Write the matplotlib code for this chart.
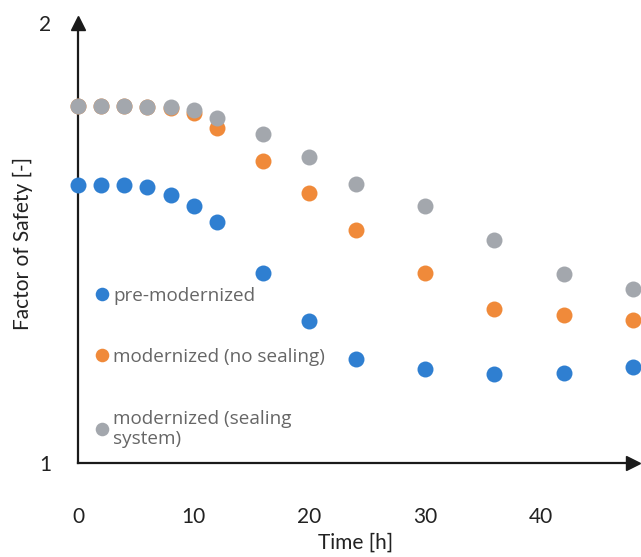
import matplotlib.pyplot as plt

plt.rcParams['font.family'] = ['Lato', 'DejaVu Sans']

# time in hours
time = [0, 2, 4, 6, 8, 10, 12, 16, 20, 24, 30, 36, 42, 48]

# factor of safety per case
pre_mod = [1.632, 1.632, 1.632, 1.627, 1.609, 1.584, 1.548,
           1.432, 1.323, 1.236, 1.214, 1.202, 1.205, 1.218]
mod_no_seal = [1.811, 1.811, 1.811, 1.809, 1.807, 1.795, 1.761,
               1.686, 1.614, 1.530, 1.432, 1.350, 1.336, 1.325]
mod_seal = [1.811, 1.811, 1.811, 1.809, 1.809, 1.802, 1.784,
            1.748, 1.695, 1.634, 1.584, 1.507, 1.430, 1.395]

labels = ['pre-modernized', 'modernized (no sealing)', 'modernized (sealing\nsystem)']
colors = ['#2f7fd1', '#f08a3a', '#a3a7ad']

fig = plt.figure(figsize=(6.41, 5.57), dpi=100)
ax = fig.add_axes([78 / 641, 1 - 463 / 557, 555 / 641, 440 / 557])

for ys, lab, c in zip([pre_mod, mod_no_seal, mod_seal], labels, colors):
    ax.plot(time, ys, 'o', color=c, ms=11.5, mec='none', label=lab, clip_on=False, zorder=3)

ax.set_xlim(0, 48)
ax.set_ylim(1, 2)
ax.set_xticks([0, 10, 20, 30, 40])
ax.set_yticks([1, 2])
ax.tick_params(length=0, labelsize=15, colors='#222222')
ax.tick_params(axis='x', pad=32)
ax.tick_params(axis='y', pad=19)

for s in ['top', 'right']:
    ax.spines[s].set_visible(False)
for s in ['left', 'bottom']:
    ax.spines[s].set_linewidth(1.6)
    ax.spines[s].set_color('#1a1a1a')

# arrow heads
ax.plot(1, 0, '>', color='#1a1a1a', ms=10, transform=ax.transAxes, clip_on=False)
ax.plot(0, 1, '^', color='#1a1a1a', ms=10, transform=ax.transAxes, clip_on=False)

ax.set_xlabel('Time [h]', fontsize=15, color='#222222', labelpad=4)
ax.set_ylabel('Factor of Safety [-]', fontsize=15, color='#222222', labelpad=5)

leg = ax.legend(loc='upper left', bbox_to_anchor=(0.022, 0.418), frameon=False,
                prop={'family': 'Open Sans', 'size': 13.6}, labelcolor='#666666',
                markerscale=0.85, handlelength=0.5, handletextpad=0.3,
                labelspacing=2.3, borderaxespad=0)

fig.savefig('out.png', dpi=100)
